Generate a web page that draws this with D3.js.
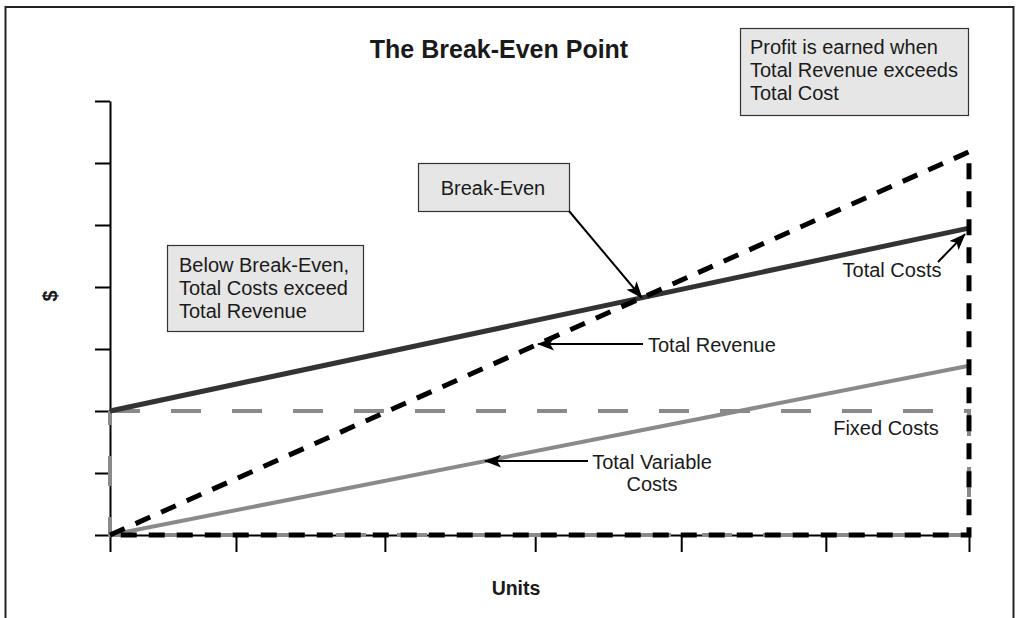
<!DOCTYPE html>
<html>
<head>
<meta charset="utf-8">
<script src="https://cdn.jsdelivr.net/npm/d3@7"></script>
<style>
  body { margin: 0; background: #fff; }
  text { font-family: "Liberation Sans", Arial, Helvetica, sans-serif; fill: #1a1a1a; }
</style>
</head>
<body>
<div id="chart"></div>
<script>
const width = 1016;
const height = 618;

// data (units on x, $ on y)
const units = [0, 6];
const fixedCosts = [2.0, 2.0];
const totalCosts = [2.0, 4.95];
const totalRevenue = [0, 6.18];
const variableCosts = [0, 2.73];
const yTicks = [0, 1, 2, 3, 4, 5, 6, 7];
const xTicks = [0, 0.88, 1.92, 2.97, 3.99, 5.0, 6];

const svg = d3.select("#chart")
  .append("svg")
  .attr("width", width)
  .attr("height", height);

// frame
svg.append("rect")
  .attr("x", 5.5).attr("y", 7)
  .attr("width", 1008).attr("height", 700)
  .attr("fill", "none")
  .attr("stroke", "#222")
  .attr("stroke-width", 2);

const x = d3.scaleLinear().domain([0, 6]).range([110, 969]);
const y = d3.scaleLinear().domain([0, 7]).range([535, 101]);

// arrow head
svg.append("defs").append("marker")
  .attr("id", "arrow")
  .attr("markerUnits", "userSpaceOnUse")
  .attr("viewBox", "0 0 17 13")
  .attr("markerWidth", 17).attr("markerHeight", 13)
  .attr("refX", 16).attr("refY", 6.5)
  .attr("orient", "auto")
  .append("path")
  .attr("d", "M0,0 L17,6.5 L0,13 L4,6.5 Z")
  .attr("fill", "#000");

// axes
const yAxis = svg.append("g")
  .attr("transform", `translate(${x(0)},0)`)
  .call(d3.axisLeft(y).tickValues(yTicks).tickSize(15).tickSizeOuter(0).tickFormat(""));
const xAxis = svg.append("g")
  .attr("transform", `translate(0,${y(0)})`)
  .call(d3.axisBottom(x).tickValues(xTicks).tickSize(17).tickSizeOuter(0).tickFormat(""));
[yAxis, xAxis].forEach(g => {
  g.selectAll("path, line").attr("stroke", "#000").attr("stroke-width", 2);
});

const pt = (u, v) => [x(u), y(v)];

// fixed costs box (gray dashed)
svg.append("path")
  .attr("d", d3.line()([pt(units[0], fixedCosts[0]), pt(units[1], fixedCosts[1]),
    pt(units[1], 0), pt(units[0], 0), pt(units[0], fixedCosts[0])]))
  .attr("fill", "none")
  .attr("stroke", "#8a8a8a")
  .attr("stroke-width", 4)
  .attr("stroke-dasharray", "30,31");

// variable costs
svg.append("path")
  .attr("d", d3.line()(units.map((u, i) => pt(u, variableCosts[i]))))
  .attr("fill", "none")
  .attr("stroke", "#8a8a8a")
  .attr("stroke-width", 4);

// total costs
svg.append("path")
  .attr("d", d3.line()(units.map((u, i) => pt(u, totalCosts[i]))))
  .attr("fill", "none")
  .attr("stroke", "#333")
  .attr("stroke-width", 5);

// total revenue (black dashed triangle)
svg.append("path")
  .attr("d", d3.line()([pt(units[0], totalRevenue[0]), pt(units[1], totalRevenue[1]),
    pt(units[1], 0), pt(units[0], 0)]))
  .attr("fill", "none")
  .attr("stroke", "#000")
  .attr("stroke-width", 5)
  .attr("stroke-dasharray", "16,12");

// helpers
const lerp = (arr, u) => arr[0] + (arr[1] - arr[0]) * (u - units[0]) / (units[1] - units[0]);
const beU = (totalCosts[0] - totalRevenue[0]) /
  ((totalRevenue[1] - totalRevenue[0]) - (totalCosts[1] - totalCosts[0])) * (units[1] - units[0]);
const bePt = pt(beU, lerp(totalRevenue, beU));

function arrow(from, to) {
  svg.append("line")
    .attr("x1", from[0]).attr("y1", from[1])
    .attr("x2", to[0]).attr("y2", to[1])
    .attr("stroke", "#000")
    .attr("stroke-width", 2)
    .attr("marker-end", "url(#arrow)");
}

function label(lines, tx, ty, lh, anchor) {
  lines.forEach((t, i) => {
    svg.append("text")
      .attr("x", tx).attr("y", ty + i * lh)
      .attr("text-anchor", anchor || "start")
      .attr("font-size", 20)
      .text(t);
  });
}

function box(bx, by, bw, bh, lines, tx, ty, lh, anchor) {
  svg.append("rect")
    .attr("x", bx + 0.5).attr("y", by + 0.5)
    .attr("width", bw).attr("height", bh)
    .attr("fill", "#e6e6e6")
    .attr("stroke", "#333")
    .attr("stroke-width", 1.2);
  label(lines, tx, ty, lh, anchor);
}

// title
svg.append("text")
  .attr("x", 499).attr("y", 58)
  .attr("text-anchor", "middle")
  .attr("font-size", 25)
  .attr("font-weight", "bold")
  .text("The Break-Even Point");

// axis titles
svg.append("text")
  .attr("transform", "translate(57,296) rotate(-90)")
  .attr("text-anchor", "middle")
  .attr("font-size", 20)
  .attr("font-weight", "bold")
  .text("$");
svg.append("text")
  .attr("x", 516).attr("y", 595)
  .attr("text-anchor", "middle")
  .attr("font-size", 19.5)
  .attr("font-weight", "bold")
  .text("Units");

// annotation boxes
box(740, 28, 228, 87, ["Profit is earned when", "Total Revenue exceeds", "Total Cost"], 750, 54, 23);
box(167, 245, 196, 86, ["Below Break-Even,", "Total Costs exceed", "Total Revenue"], 179, 272, 23);
box(418, 163, 151, 48, ["Break-Even"], 493, 195, 0, "middle");

// arrows
arrow([569, 211], bePt);

const revU = 2.99;
const revTip = pt(revU, lerp(totalRevenue, revU));
arrow([643, revTip[1]], revTip);
label(["Total Revenue"], 648, revTip[1] + 8, 0);

const varU = 2.62;
const varTip = pt(varU, lerp(variableCosts, varU));
arrow([588, varTip[1]], varTip);
label(["Total Variable"], 652, varTip[1] + 8, 0, "middle");
label(["Costs"], 652, varTip[1] + 30, 0, "middle");

const tcEnd = pt(units[1], totalCosts[1]);
arrow([938, 262], [tcEnd[0] - 4, tcEnd[1] + 6]);
label(["Total Costs"], 892, 277, 0, "middle");

label(["Fixed Costs"], 886, 435, 0, "middle");
</script>
</body>
</html>
